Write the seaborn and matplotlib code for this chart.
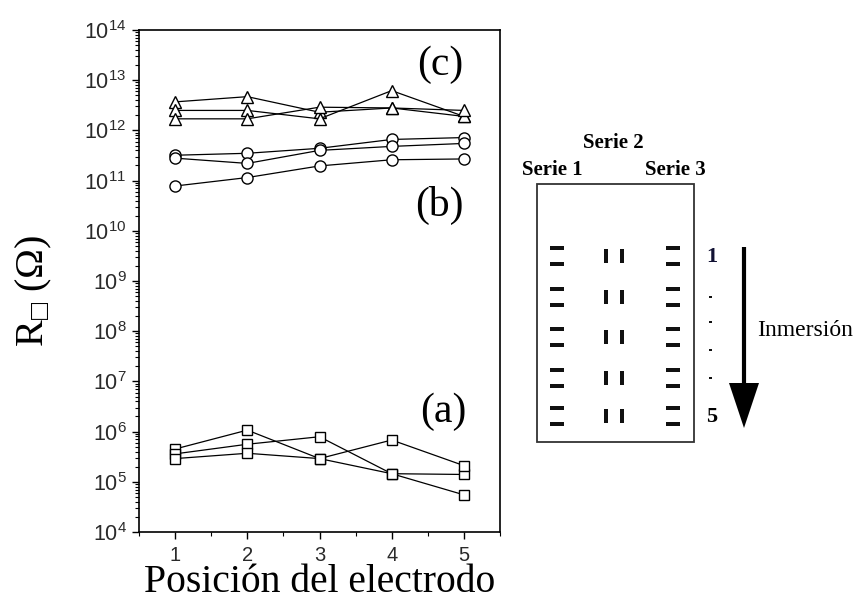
import numpy as np
import pandas as pd
import matplotlib
matplotlib.use("Agg")
import matplotlib.pyplot as plt
import seaborn as sns
from matplotlib.patches import Rectangle, Polygon
from matplotlib.ticker import LogLocator, NullFormatter, MultipleLocator, FixedLocator

# ---------------- data ----------------
positions = [1, 2, 3, 4, 5]
xtick_labels = ["1", "2", "3", "4", "5"]

# (c) triangles
tri_a = [3.7e12, 4.7e12, 2.3e12, 2.8e12, 1.9e12]
tri_b = [2.5e12, 2.5e12, 1.7e12, 6.2e12, 1.9e12]
tri_c = [1.7e12, 1.7e12, 2.9e12, 2.8e12, 2.5e12]

# (b) circles
circ_a = [3.2e11, 3.5e11, 4.4e11, 6.6e11, 7.2e11]
circ_b = [2.8e11, 2.2e11, 4.0e11, 4.8e11, 5.5e11]
circ_c = [7.8e10, 1.15e11, 1.96e11, 2.6e11, 2.7e11]

# (a) squares
sq_a = [4.5e5, 1.07e6, 2.9e5, 1.45e5, 5.5e4]
sq_b = [3.6e5, 5.6e5, 7.9e5, 1.45e5, 1.4e5]
sq_c = [2.9e5, 3.7e5, 2.9e5, 6.8e5, 2.1e5]

panel_labels = ["(a)", "(b)", "(c)"]
series_labels = ["Serie 1", "Serie 2", "Serie 3"]
diagram_numbers = ["1", "5"]
arrow_label = "Inmersión"

# ---------------- style ----------------
sns.set_theme(style="ticks")
plt.rcParams["font.family"] = ["Liberation Sans", "DejaVu Sans"]
plt.rcParams["mathtext.fontset"] = "custom"
plt.rcParams["mathtext.rm"] = "Liberation Serif"
plt.rcParams["mathtext.it"] = "DejaVu Sans"
plt.rcParams["mathtext.fallback"] = "stix"
SERIF = ["Liberation Serif", "DejaVu Serif"]

fig = plt.figure(figsize=(8.58, 6.0), dpi=100)
fig.patch.set_facecolor("white")
W, H = 858, 600
ax = fig.add_axes([139 / W, 68 / H, 361 / W, 502 / H])
ax.set_facecolor("white")

groups = [
    ([tri_a, tri_b, tri_c], "^", 8.5),
    ([circ_a, circ_b, circ_c], "o", 8),
    ([sq_a, sq_b, sq_c], "s", 7),
]
for series, mk, ms in groups:
    for ys in series:
        sns.lineplot(x=positions, y=ys, ax=ax, color="black", linewidth=0.9,
                     marker=mk, markersize=ms, markerfacecolor="white",
                     markeredgecolor="black", markeredgewidth=1.0,
                     legend=False, estimator=None, sort=False)

ax.set_yscale("log")
ax.set_ylim(1e4, 1e14)
ax.set_xlim(0.5, 5.5)
ax.yaxis.set_major_locator(FixedLocator([10.0 ** k for k in range(4, 15)]))
ax.yaxis.set_minor_locator(LogLocator(base=10, subs=np.arange(2, 10), numticks=100))
ax.yaxis.set_minor_formatter(NullFormatter())
ax.set_xticks(positions)
ax.set_xticklabels(xtick_labels)
ax.xaxis.set_minor_locator(MultipleLocator(0.5))

for side in ["left", "right", "top", "bottom"]:
    ax.spines[side].set_visible(True)
    ax.spines[side].set_color("black")
    ax.spines[side].set_linewidth(1.2)

ax.tick_params(axis="both", which="major", direction="out", length=5, width=1.0,
               colors="black", top=False, right=False, pad=4)
ax.tick_params(axis="y", which="major", labelsize=15.5)
ax.tick_params(axis="x", which="major", labelsize=14.5, pad=5)
ax.tick_params(axis="both", which="minor", direction="out", length=3, width=0.8,
               colors="black", top=False, right=False)
for lab in ax.get_yticklabels() + ax.get_xticklabels():
    lab.set_color("#2a2a2a")
ax.grid(False)

ax.set_xlabel("Posición del electrodo", fontsize=28.5, family=SERIF, labelpad=-1, color="black")
ax.set_ylabel("$\\mathdefault{R}_{\u25a1}$ (Ω)", fontsize=29, family=SERIF, color="black")
ax.yaxis.set_label_coords(-0.236, 0.48)

ax.text(0.834, 0.930, panel_labels[2], transform=ax.transAxes, fontsize=30,
        family=SERIF, ha="center", va="center", color="black")
ax.text(0.831, 0.651, panel_labels[1], transform=ax.transAxes, fontsize=30,
        family=SERIF, ha="center", va="center", color="black")
ax.text(0.842, 0.239, panel_labels[0], transform=ax.transAxes, fontsize=30,
        family=SERIF, ha="center", va="center", color="black")

# ---------------- electrode diagram (figure pixel coordinates) ----------------
ov = fig.add_axes([0, 0, 1, 1])
ov.set_xlim(0, W)
ov.set_ylim(H, 0)
ov.axis("off")
ov.patch.set_alpha(0)

ov.add_patch(Rectangle((537, 184), 157, 258, fill=False, lw=1.3, ec="#333333"))
rows = [256, 297, 337, 378, 416]
for ry in rows:
    for cx in [556.5, 672.5]:
        for dy in (-8, 8):
            ov.add_patch(Rectangle((cx - 7, ry + dy - 1.8), 14, 3.6, color="#111111", lw=0))
    for cx in [605.5, 621.5]:
        ov.add_patch(Rectangle((cx - 2, ry - 7), 4, 14, color="#111111", lw=0))

ov.text(613, 143, series_labels[1], fontsize=15, family=SERIF, weight="bold",
        ha="center", va="center", color="black")
ov.text(552, 170, series_labels[0], fontsize=15, family=SERIF, weight="bold",
        ha="center", va="center", color="black")
ov.text(675, 170, series_labels[2], fontsize=15, family=SERIF, weight="bold",
        ha="center", va="center", color="black")
ov.text(712, 257, diagram_numbers[0], fontsize=16, family=SERIF, weight="bold",
        ha="center", va="center", color="#111133")
ov.text(712, 417, diagram_numbers[1], fontsize=16, family=SERIF, weight="bold",
        ha="center", va="center", color="black")
for dy in [297, 322, 350, 378]:
    ov.add_patch(Rectangle((709, dy - 1.3), 2.6, 2.6, color="#111111", lw=0))

ov.plot([743.5, 743.5], [247, 390], color="black", lw=3.0, solid_capstyle="butt")
ov.add_patch(Polygon([(729, 383), (759, 383), (744, 428)], closed=True, color="black", lw=0))
ov.text(757, 331, arrow_label, fontsize=17, family=SERIF, ha="left", va="center", color="black")

fig.savefig("out.png", dpi=100, facecolor="white")
